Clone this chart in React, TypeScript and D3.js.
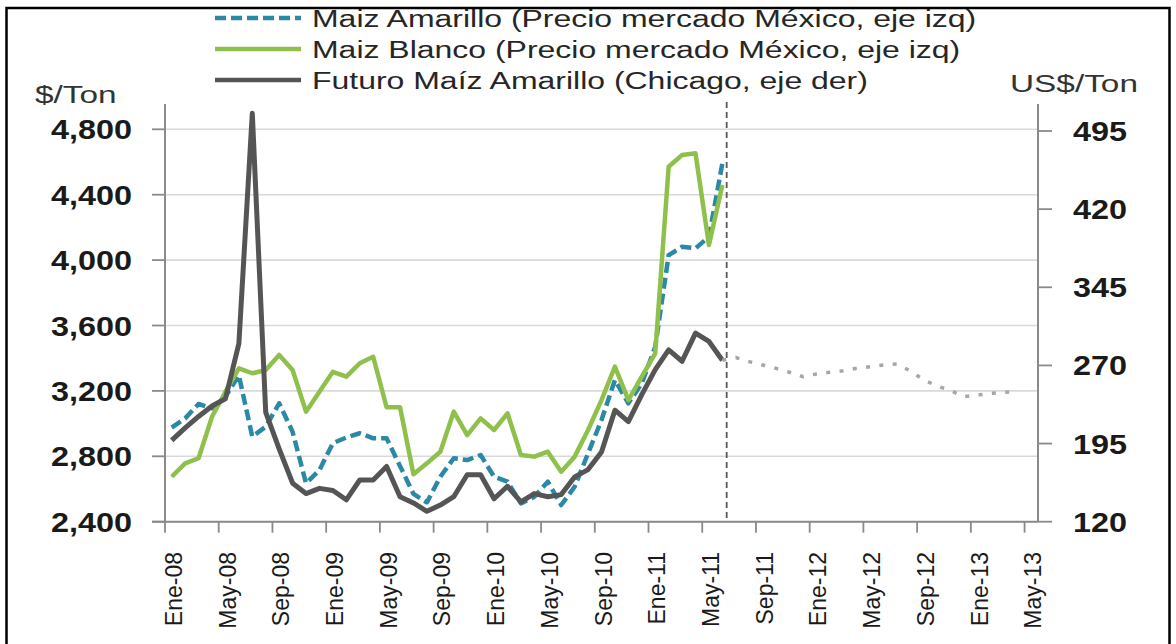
import React from "react";
import * as d3 from "d3";

// ---- data (monthly, Ene-08 .. Jun-11) ----
const maizAmarillo = [
  2975, 3032, 3120, 3094, 3165, 3295, 2920, 2981, 3124, 2950, 2635, 2716,
  2880, 2915, 2941, 2910, 2910, 2740, 2570, 2518, 2675, 2788, 2777, 2808,
  2675, 2645, 2512, 2553, 2645, 2502, 2614, 2818, 3022, 3267, 3124, 3246,
  3470, 4030, 4082, 4072, 4143, 4592,
];
const maizBlanco = [
  2675, 2757, 2788, 3042, 3195, 3338, 3308, 3328, 3420, 3328, 3073, 3195,
  3317, 3287, 3369, 3409, 3100, 3100, 2690, 2757, 2828, 3073, 2930, 3032,
  2961, 3063, 2808, 2798, 2828, 2706, 2798, 2961, 3144, 3348, 3144, 3287,
  3430, 4571, 4643, 4653, 4092, 4459,
];
const futuroChicago = [
  198, 210, 221, 231, 238, 291, 512, 225, 190, 157, 147, 152,
  150, 141, 160, 160, 173, 144, 138, 130, 136, 144, 165, 165,
  142, 154, 139, 147, 144, 146, 163, 170, 187, 227, 216, 242,
  266, 285, 274, 301, 293, 275,
];
// futures curve (Jun-11 .. Abr-13)
const futuroCurva = [
  275, 277.6, 273.6, 270.4, 267.2, 263.4, 259.2, 261.8, 263.4, 264.9, 267.2, 268.8,
  270.4, 271.4, 264.6, 256, 250.2, 245.7, 240, 241.6, 243.2, 244.2, 244.8,
];
const curvaStartIndex = 41;
const dividerMonth = 41.82;
const totalMonths = 65;

const xTickLabels = [
  "Ene-08", "May-08", "Sep-08", "Ene-09", "May-09", "Sep-09", "Ene-10", "May-10",
  "Sep-10", "Ene-11", "May-11", "Sep-11", "Ene-12", "May-12", "Sep-12", "Ene-13", "May-13",
];
const xTickEvery = 4;
const leftTicks = [2400, 2800, 3200, 3600, 4000, 4400, 4800];
const rightTicks = [120, 195, 270, 345, 420, 495];

const legendItems = [
  { label: "Maiz Amarillo (Precio mercado México, eje izq)", color: "#2B89A6", dash: "11 5" },
  { label: "Maiz Blanco (Precio mercado México, eje izq)", color: "#8FC04C", dash: "" },
  { label: "Futuro Maíz Amarillo (Chicago, eje der)", color: "#555555", dash: "" },
];

const FONT = "'Liberation Sans', Arial, Helvetica, sans-serif";

export default function App() {
  const W = 1176, H = 644;
  const left = 165, right = 1038, top = 104, bottom = 521.7;

  const x = d3.scaleLinear().domain([0, totalMonths]).range([left, right]);
  const px = (i: number) => x(i + 0.5);
  const yL = d3.scaleLinear().domain([2400, 4800]).range([bottom, 129.3]);
  const yR = d3.scaleLinear().domain([120, 495]).range([bottom, 131]);

  const lineL = d3.line<number>().x((_, i) => px(i)).y((d) => yL(d));
  const lineR = d3.line<number>().x((_, i) => px(i)).y((d) => yR(d));
  const lineCurve = d3.line<number>().x((_, i) => px(i + curvaStartIndex)).y((d) => yR(d));

  const fmt = d3.format(",");
  const regSX = 1.36;
  const boldSX = 1.2;

  const xTicks = xTickLabels.map((_, j) => j * xTickEvery);

  return (
    <svg
      width={W}
      height={H}
      style={{ position: "absolute", left: 0, top: 0, background: "#fff" }}
      fontFamily={FONT}
    >
      <rect x={0} y={0} width={W} height={H} fill="#fff" />
      {/* gridlines */}
      {leftTicks.map((t) => (
        <line key={"g" + t} x1={left} x2={right} y1={yL(t)} y2={yL(t)} stroke="#D9D9D9" strokeWidth={1.6} />
      ))}

      {/* axes */}
      <line x1={left} x2={left} y1={top} y2={bottom} stroke="#8A8A8A" strokeWidth={2} />
      <line x1={right} x2={right} y1={top} y2={bottom} stroke="#8A8A8A" strokeWidth={2} />
      <line x1={left - 13} x2={right} y1={bottom} y2={bottom} stroke="#8A8A8A" strokeWidth={2} />
      {leftTicks.map((t) => (
        <line key={"lt" + t} x1={left - 13} x2={left} y1={yL(t)} y2={yL(t)} stroke="#8A8A8A" strokeWidth={1.8} />
      ))}
      {rightTicks.map((t) => (
        <line key={"rt" + t} x1={right} x2={right + 14} y1={yR(t)} y2={yR(t)} stroke="#8A8A8A" strokeWidth={1.8} />
      ))}
      {xTicks.map((m) => (
        <line key={"xt" + m} x1={x(m)} x2={x(m)} y1={bottom} y2={bottom + 11} stroke="#8A8A8A" strokeWidth={1.8} />
      ))}

      {/* tick labels */}
      {leftTicks.map((t) => (
        <text
          key={"ll" + t}
          transform={`translate(132,${yL(t) + 10}) scale(${boldSX},1)`}
          textAnchor="end"
          fontSize={27}
          fontWeight="bold"
          fill="#1a1a1a"
        >
          {fmt(t)}
        </text>
      ))}
      {rightTicks.map((t) => (
        <text
          key={"rl" + t}
          transform={`translate(1073,${yR(t) + 10}) scale(${boldSX},1)`}
          textAnchor="start"
          fontSize={27}
          fontWeight="bold"
          fill="#1a1a1a"
        >
          {t}
        </text>
      ))}
      {xTicks.map((m, j) => (
        <text
          key={"xl" + m}
          transform={`translate(${x(m + 0.5) + 2},552) rotate(-90)`}
          textAnchor="end"
          dy="0.35em"
          fontSize={23}
          fill="#1a1a1a"
        >
          {xTickLabels[j]}
        </text>
      ))}

      {/* axis titles */}
      <text transform={`translate(35,102.5) scale(1.42,1)`} fontSize={23.5} fill="#333">
        $/Ton
      </text>
      <text transform={`translate(1010,91.5) scale(1.42,1)`} fontSize={23.5} fill="#333">
        US$/Ton
      </text>

      {/* divider */}
      <line
        x1={x(dividerMonth)}
        x2={x(dividerMonth)}
        y1={top - 2}
        y2={bottom}
        stroke="#595959"
        strokeWidth={1.8}
        strokeDasharray="6 4"
      />

      {/* series */}
      <path
        d={lineL(maizAmarillo) || ""}
        fill="none"
        stroke="#2B89A6"
        strokeWidth={4.5}
        strokeDasharray="11 5"
        strokeLinejoin="round"
      />
      <path d={lineL(maizBlanco) || ""} fill="none" stroke="#8FC04C" strokeWidth={4.5} strokeLinejoin="round" />
      <path d={lineR(futuroChicago) || ""} fill="none" stroke="#555555" strokeWidth={5} strokeLinejoin="round" />
      <path
        d={lineCurve(futuroCurva) || ""}
        fill="none"
        stroke="#A6A6A6"
        strokeWidth={3.5}
        strokeDasharray="4 9.4"
      />

      {/* legend */}
      {legendItems.map((it, i) => {
        const base = 27 + i * 31;
        return (
          <g key={"lg" + i}>
            <line
              x1={215}
              x2={301}
              y1={base - 9}
              y2={base - 9}
              stroke={it.color}
              strokeWidth={4.5}
              strokeDasharray={it.dash || undefined}
            />
            <text transform={`translate(312,${base}) scale(${regSX},1)`} fontSize={23.5} fill="#262626">
              {it.label}
            </text>
          </g>
        );
      })}

      {/* outer frame */}
      <rect x={6.5} y={8} width={1163} height={700} fill="none" stroke="#000" strokeWidth={2.5} />
    </svg>
  );
}
